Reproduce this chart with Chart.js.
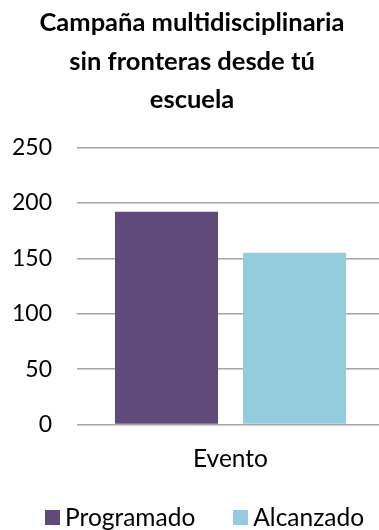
<!DOCTYPE html>
<html>
<head>
<meta charset="utf-8">
<script src="https://cdn.jsdelivr.net/npm/chart.js@4"></script>
<style>
html,body{margin:0;padding:0;background:#fff;overflow:hidden;}
#wrap{width:379px;height:530px;position:relative;overflow:hidden;}
#legend{position:absolute;left:45px;top:505px;display:flex;align-items:center;font-family:Lato,"Open Sans",sans-serif;font-size:24.5px;color:#000;line-height:24px;white-space:nowrap;}
#legend .item{display:flex;align-items:center;}
#legend .box{width:15px;height:15px;margin-right:5px;display:inline-block;}
</style>
</head>
<body>
<div id="wrap"><canvas id="c" width="384" height="530"></canvas><div id="legend"></div></div>
<script>
const categories = ['Evento'];
const seriesNames = ['Programado', 'Alcanzado'];
const seriesColors = ['#604A7B', '#93CDDD'];
const programado = [192];
const alcanzado = [155];
const titleLines = ['Campaña multidisciplinaria', 'sin fronteras desde tú', 'escuela'];

const FONT = 'Lato, "Open Sans", sans-serif';

const chart = new Chart(document.getElementById('c'), {
  type: 'bar',
  data: {
    labels: categories,
    datasets: [
      { label: seriesNames[0], data: programado, backgroundColor: seriesColors[0], borderWidth: 0 },
      { label: seriesNames[1], data: alcanzado, backgroundColor: seriesColors[1], borderWidth: 0 }
    ]
  },
  options: {
    responsive: false,
    animation: false,
    devicePixelRatio: 1,
    layout: { padding: { left: 0, right: 0, top: 4, bottom: 36 } },
    datasets: { bar: { categoryPercentage: 0.834, barPercentage: 0.805 } },
    plugins: {
      title: {
        display: true,
        text: titleLines,
        color: '#000',
        font: { family: FONT, size: 25.5, weight: 'bold', lineHeight: 1.51 },
        padding: { top: 0, bottom: 28 }
      },
      legend: { display: false },
      tooltip: { enabled: false }
    },
    scales: {
      x: {
        grid: { display: false, drawTicks: false },
        border: { display: false },
        ticks: { color: '#000', font: { family: FONT, size: 24.5 }, padding: 20 }
      },
      y: {
        min: 0, max: 250,
        afterFit: s => { s.width = 77; },
        ticks: { stepSize: 50, color: '#000', font: { family: FONT, size: 23 }, padding: 25 },
        grid: { color: '#A6A6A6', lineWidth: 1.5, drawTicks: false },
        border: { display: false }
      }
    }
  }
});

// Legend built from the datasets
const legendEl = document.getElementById('legend');
chart.data.datasets.forEach((ds, i) => {
  const item = document.createElement('span');
  item.className = 'item';
  if (i > 0) item.style.marginLeft = '38px';
  const box = document.createElement('span');
  box.className = 'box';
  box.style.background = ds.backgroundColor;
  const txt = document.createElement('span');
  txt.textContent = ds.label;
  item.appendChild(box);
  item.appendChild(txt);
  legendEl.appendChild(item);
});
</script>
</body>
</html>
